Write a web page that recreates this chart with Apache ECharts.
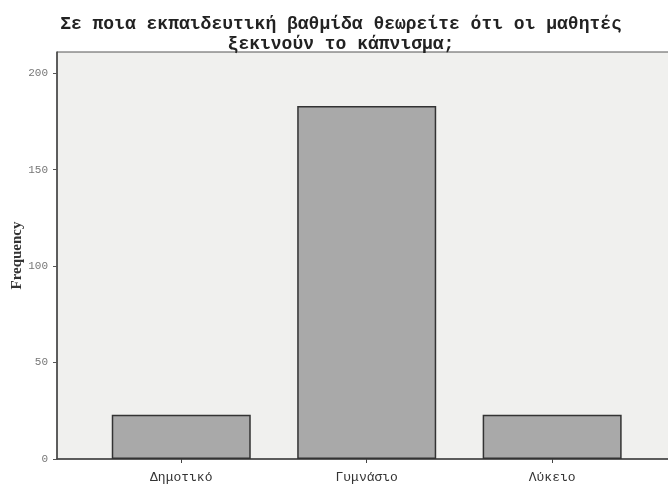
<!DOCTYPE html>
<html>
<head>
<meta charset="utf-8">
<script src="https://cdn.jsdelivr.net/npm/echarts@6/dist/echarts.min.js"></script>
<style>html,body{margin:0;padding:0;background:#fff;}#c{width:668px;height:484px;}</style>
</head>
<body>
<div id="c"></div>
<script>
const titleText = "Σε ποια εκπαιδευτική βαθμίδα θεωρείτε ότι οι μαθητές\nξεκινούν το κάπνισμα;";
const categories = ["Δημοτικό", "Γυμνάσιο", "Λύκειο"];
const frequencies = [23, 183, 23];
const yTicks = [0, 50, 100, 150, 200];
const yAxisName = "Frequency";

const positions = categories.map((c, i) => i + 1);
const barData = frequencies.map((v, i) => [positions[i], v]);

const chart = echarts.init(document.getElementById('c'), null, {renderer: 'canvas'});
chart.setOption({
  backgroundColor: '#ffffff',
  animation: false,
  title: {
    text: titleText,
    left: 336,
    textAlign: 'center',
    top: 9,
    textStyle: {fontFamily: 'Liberation Mono', fontSize: 18, fontWeight: 'bold', color: '#222', lineHeight: 20}
  },
  grid: {
    left: 57, right: -1, top: 52, bottom: 25,
    outerBoundsMode: 'none', containLabel: false,
    show: true, backgroundColor: '#f0f0ee', borderColor: '#555', borderWidth: 1
  },
  xAxis: {
    type: 'value', min: 0.33, max: 3.63,
    splitLine: {show: false},
    axisLine: {show: true, lineStyle: {color: '#444', width: 1.5}},
    axisTick: {show: true, customValues: positions, length: 4, lineStyle: {color: '#444'}},
    axisLabel: {
      customValues: positions,
      formatter: v => categories[Math.round(v) - 1] || '',
      fontFamily: 'Liberation Mono', fontSize: 13, color: '#333', margin: 12
    }
  },
  yAxis: {
    type: 'value', min: 0, max: 211,
    name: yAxisName, nameLocation: 'middle', nameGap: 32, nameRotate: 90, nameMoveOverlap: false,
    nameTextStyle: {fontFamily: 'Liberation Serif', fontWeight: 'bold', fontSize: 15, color: '#333'},
    splitLine: {show: false},
    axisLine: {show: true, lineStyle: {color: '#444', width: 1.5}},
    axisTick: {show: true, customValues: yTicks, length: 4, lineStyle: {color: '#555'}},
    axisLabel: {customValues: yTicks, fontFamily: 'Liberation Mono', fontSize: 11, color: '#777', margin: 9}
  },
  series: [{
    type: 'bar',
    data: barData,
    barWidth: 139,
    itemStyle: {color: '#a9a9a9', borderColor: '#333', borderWidth: 1.5}
  }]
});
</script>
</body>
</html>
